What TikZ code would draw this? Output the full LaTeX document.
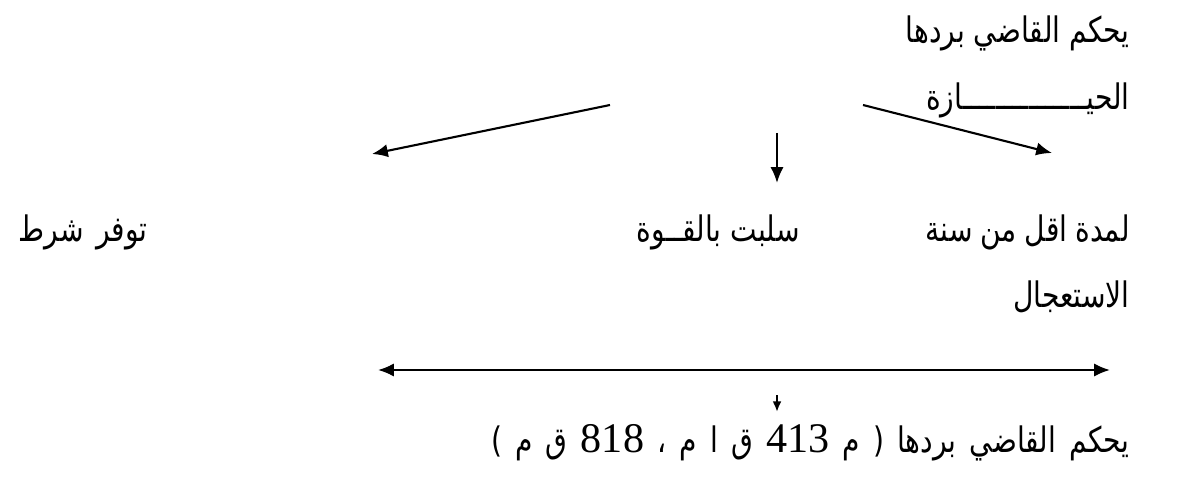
\documentclass[tikz,border=0pt]{standalone}
\usepackage{fontspec}
\usetikzlibrary{arrows.meta}
\newfontfamily\arabicfont[Script=Arabic, FakeStretch=0.8]{DejaVu Sans}
\newfontfamily\numfont{Liberation Serif}
\TeXXeTstate=1
\newcommand{\numtext}[1]{\beginL{\numfont\fontsize{24}{26}\selectfont #1}\endL}
\begin{document}
\begin{tikzpicture}[
    label/.style={anchor=east, inner sep=0pt, font=\arabicfont\fontsize{20}{24}\selectfont},
    link/.style={line width=1.2pt, draw=black, -{Latex[length=9pt, width=7.5pt]}},
]
  \useasboundingbox (0,0) rectangle (23.68,-9.62);
  % text
  \node[label] (t_top) at (22.6, -0.66) {\beginR يحكم القاضي بردها\endR};
  \node[label] (t_hiyaza) at (22.6, -2.0) {\beginR الحيـــــــــــــــازة\endR};
  \node[label] (t_year) at (22.6, -4.64) {\spaceskip=4.5pt\beginR لمدة اقل من سنة\endR};
  \node[label] (t_force) at (16.0, -4.64) {\beginR سلبت بالقــوة\endR};
  \node[label] (t_cond) at (2.96, -4.64) {\spaceskip=7pt\beginR توفر شرط\endR};
  \node[label] (t_urgent) at (22.6, -5.94) {\beginR الاستعجال\endR};
  \node[label] (t_ruling) at (22.6, -8.86) {\spaceskip=7.5pt\beginR يحكم القاضي بردها ( م \numtext{413} ق ا م ، \numtext{818} ق م )\endR};
  % arrow ends
  \coordinate (a_left_s) at (12.2, -2.1);
  \coordinate (a_left_e) at (7.44, -3.08);
  \coordinate (a_mid_s) at (15.54, -2.66);
  \coordinate (a_mid_e) at (15.54, -3.66);
  \coordinate (a_right_s) at (17.26, -2.1);
  \coordinate (a_right_e) at (21.04, -3.06);
  \coordinate (a_both_w) at (7.56, -7.4);
  \coordinate (a_both_e) at (22.2, -7.4);
  \coordinate (a_low_s) at (15.54, -7.9);
  \coordinate (a_low_e) at (15.54, -8.24);
  % arrows
  \draw[link] (a_left_s) -- (a_left_e);
  \draw[link] (a_mid_s) -- (a_mid_e);
  \draw[link] (a_right_s) -- (a_right_e);
  \draw[link, {Latex[length=9pt, width=7.5pt]}-{Latex[length=9pt, width=7.5pt]}] (a_both_w) -- (a_both_e);
  \draw[link, -{Latex[length=6pt, width=5pt]}] (a_low_s) -- (a_low_e);
\end{tikzpicture}
\end{document}
